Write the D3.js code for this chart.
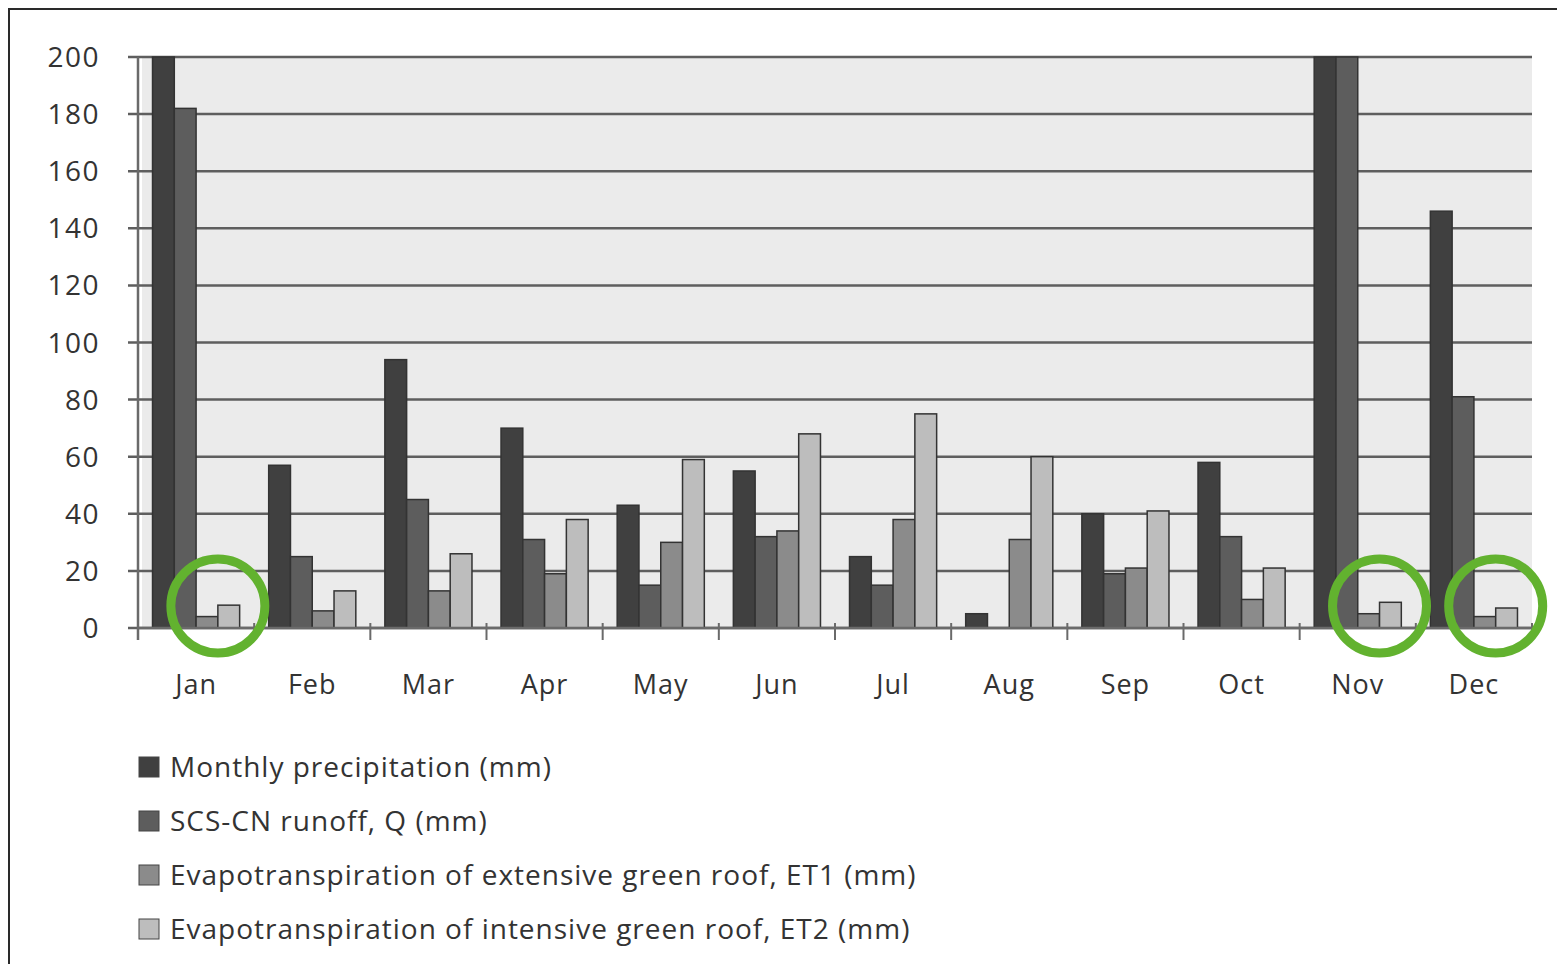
<!DOCTYPE html>
<html>
<head>
<meta charset="utf-8">
<script src="https://cdn.jsdelivr.net/npm/d3@7"></script>
<style>
  body { margin: 0; background: #fff; }
  svg { display: block; font-family: "Open Sans", Lato, sans-serif; }
</style>
</head>
<body>
<svg id="chart"></svg>
<script>
// donnees
const months = ["Jan", "Feb", "Mar", "Apr", "May", "Jun", "Jul", "Aug", "Sep", "Oct", "Nov", "Dec"];
const precipitation = [240, 57, 94, 70, 43, 55, 25, 5, 40, 58, 260, 146];
const runoff = [182, 25, 45, 31, 15, 32, 15, 0, 19, 32, 220, 81];
const et1 = [4, 6, 13, 19, 30, 34, 38, 31, 21, 10, 5, 4];
const et2 = [8, 13, 26, 38, 59, 68, 75, 60, 41, 21, 9, 7];
const seriesNames = [
  "Monthly precipitation (mm)",
  "SCS-CN runoff, Q (mm)",
  "Evapotranspiration of extensive green roof, ET1 (mm)",
  "Evapotranspiration of intensive green roof, ET2 (mm)"
];
const yTicks = [0, 20, 40, 60, 80, 100, 120, 140, 160, 180, 200];
const circled = ["Jan", "Nov", "Dec"];

const colors = ["#404040", "#5d5d5d", "#8b8b8b", "#bdbdbd"];
const allSeries = [precipitation, runoff, et1, et2];

const width = 1557, height = 964;
const margin = { top: 57, right: 25, bottom: 336, left: 138 };

const svg = d3.select("#chart").attr("width", width).attr("height", height);

// cadre exterieur
svg.append("rect")
  .attr("x", 9).attr("y", 9)
  .attr("width", width).attr("height", height)
  .attr("fill", "none").attr("stroke", "#2a2a2a").attr("stroke-width", 2);

const x0 = d3.scaleBand()
  .domain(months)
  .range([margin.left, width - margin.right])
  .paddingInner(0.25)
  .paddingOuter(0.125);

const x1 = d3.scaleBand().domain(d3.range(4)).range([0, x0.bandwidth()]);

const y = d3.scaleLinear()
  .domain([0, 200])
  .range([height - margin.bottom, margin.top])
  .clamp(true);

const step = (width - margin.right - margin.left) / months.length;

// fond de la zone de trace
svg.append("rect")
  .attr("x", margin.left + 4).attr("y", y(200))
  .attr("width", width - margin.right - margin.left - 4)
  .attr("height", y(0) - y(200))
  .attr("fill", "#ebebeb");

// grille horizontale
svg.append("g")
  .selectAll("line")
  .data(yTicks)
  .join("line")
  .attr("x1", margin.left - 10)
  .attr("x2", width - margin.right)
  .attr("y1", (d) => y(d))
  .attr("y2", (d) => y(d))
  .attr("stroke", "#5e5e5e")
  .attr("stroke-width", 2.5);

// labels axe y
svg.append("g")
  .selectAll("text")
  .data(yTicks)
  .join("text")
  .attr("x", 100)
  .attr("y", (d) => y(d))
  .attr("dy", "0.36em")
  .attr("text-anchor", "end")
  .attr("font-size", 28)
  .attr("letter-spacing", 1.5)
  .attr("fill", "#333")
  .text((d) => d);

// axe vertical
svg.append("line")
  .attr("x1", margin.left).attr("x2", margin.left)
  .attr("y1", y(200)).attr("y2", y(0) + 12)
  .attr("stroke", "#6a6a6a").attr("stroke-width", 2.5);

// barres
const groups = svg.append("g")
  .selectAll("g")
  .data(months)
  .join("g")
  .attr("transform", (d) => `translate(${x0(d)},0)`);

groups.selectAll("rect")
  .data((m, i) => allSeries.map((s, k) => ({ k, v: s[i] })))
  .join("rect")
  .attr("x", (d) => x1(d.k))
  .attr("y", (d) => y(d.v))
  .attr("width", x1.bandwidth())
  .attr("height", (d) => y(0) - y(d.v))
  .attr("fill", (d) => colors[d.k])
  .attr("stroke", (d) => (d.v > 0 ? "#333" : "none"))
  .attr("stroke-width", 1.5);

// axe horizontal et graduations
svg.append("line")
  .attr("x1", margin.left).attr("x2", width - margin.right)
  .attr("y1", y(0)).attr("y2", y(0))
  .attr("stroke", "#6a6a6a").attr("stroke-width", 2.5);

svg.append("g")
  .selectAll("line")
  .data(d3.range(months.length + 1))
  .join("line")
  .attr("x1", (i) => margin.left + i * step)
  .attr("x2", (i) => margin.left + i * step)
  .attr("y1", y(0) - 5)
  .attr("y2", y(0) + 12)
  .attr("stroke", "#6a6a6a")
  .attr("stroke-width", 2);

svg.append("g")
  .selectAll("text")
  .data(months)
  .join("text")
  .attr("x", (d) => x0(d) + x0.bandwidth() / 2)
  .attr("y", y(0) + 66)
  .attr("text-anchor", "middle")
  .attr("font-size", 27)
  .attr("letter-spacing", 1)
  .attr("fill", "#333")
  .text((d) => d);

// cercles verts d'annotation
svg.append("g")
  .selectAll("circle")
  .data(circled)
  .join("circle")
  .attr("cx", (d) => x0(d) + x1(2) + x1.bandwidth())
  .attr("cy", y(0) - 22)
  .attr("r", 47)
  .attr("fill", "none")
  .attr("stroke", "#62b22f")
  .attr("stroke-width", 9);

// legende
const legend = svg.append("g")
  .selectAll("g")
  .data(seriesNames)
  .join("g")
  .attr("transform", (d, i) => `translate(139,${767 + i * 54})`);

legend.append("rect")
  .attr("x", 0).attr("y", -10)
  .attr("width", 20).attr("height", 20)
  .attr("fill", (d, i) => colors[i])
  .attr("stroke", "#444").attr("stroke-width", 1);

legend.append("text")
  .attr("x", 31)
  .attr("dy", "0.35em")
  .attr("font-size", 28)
  .attr("letter-spacing", 1)
  .attr("fill", "#333")
  .text((d) => d);
</script>
</body>
</html>
